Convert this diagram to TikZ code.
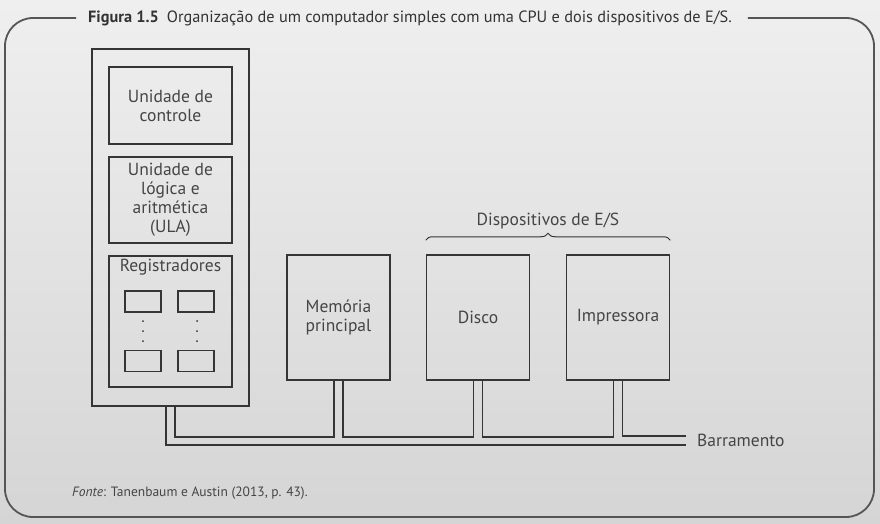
\documentclass[tikz,border=0pt]{standalone}
\usepackage{fontspec}
\setmainfont{PT Sans}
\usetikzlibrary{positioning,calc,decorations.pathreplacing}
\definecolor{ink}{HTML}{353535}
\definecolor{txt}{HTML}{454545}
\definecolor{rim}{HTML}{555555}
\definecolor{bgtop}{HTML}{EFEFEF}
\definecolor{bgbot}{HTML}{D5D5D5}
\tikzset{
  box/.style={draw=ink,line width=1.5pt,text=txt,align=center,font=\fontsize{17.5}{19}\selectfont,inner sep=2pt},
  reg/.style={draw=ink,line width=1.3pt,minimum width=36pt,minimum height=21pt,inner sep=0pt},
  bus/.style={draw=ink,line width=1.5pt},
  lbl/.style={text=txt,font=\fontsize{17.5}{19}\selectfont,inner sep=0pt},
  frame/.style={draw=rim,line width=1.8pt,rounded corners=28pt}
}

\begin{document}
\begin{tikzpicture}[x=1pt,y=-1pt]
  \shade[top color=bgtop,bottom color=bgbot] (0,0) rectangle (880,524);
  \useasboundingbox (0,0) rectangle (880,524);

  % titulo e moldura
  \node[lbl,anchor=west,font=\fontsize{16.3}{18}\selectfont,text=black!80] (titulo) at (88,18)
    {\textbf{Figura 1.5}\enspace Organização de um computador simples com uma CPU e dois dispositivos de E/S.};
  \draw[frame] ([xshift=-12pt]titulo.west) -- (5,18) -- (5,517) -- (874,517) -- (874,18) -- ([xshift=16pt]titulo.east);

  % CPU
  \node[box,minimum width=157pt,minimum height=357pt] (cpu) at (170.5,227.5) {};
  \node[box,minimum width=123pt,minimum height=77pt] (uc) at (170.5,105.5) {Unidade de\\controle};
  \node[box,minimum width=123pt,minimum height=86pt] (ula) at (170.5,200) {Unidade de\\lógica e\\aritmética\\(ULA)};
  \node[box,minimum width=123pt,minimum height=131pt] (regs) at (170.5,321.5) {};
  \node[lbl,below=4pt of regs.north] (regtit) {Registradores};
  \node[reg] (r1) at (143,301.5) {};
  \node[reg] (r2) at (196,301.5) {};
  \node[reg] (r3) at (143,361) {};
  \node[reg] (r4) at (196,361) {};
  \foreach \x in {143,197}
    \foreach \y in {321,331,341}
      \fill[ink] (\x,\y) circle (1pt);

  % memoria e E/S
  \node[box,minimum width=103pt,minimum height=125pt] (mem) at (338.5,317.5) {Memória\\principal};
  \node[box,minimum width=103pt,minimum height=125pt] (dsk) at (478,317.5) {Disco};
  \node[box,minimum width=103pt,minimum height=125pt] (prn) at (618,317.5) {Impressora};
  \draw[ink,line width=1pt,decorate,decoration={brace,amplitude=7pt}]
    ([yshift=14pt]dsk.north west) -- ([yshift=14pt]prn.north east)
    node[lbl,midway,above=11pt] (es) {Dispositivos de E/S};

  % barramento
  \coordinate (bi) at (686,436);
  \coordinate (bo) at (686,445);
  \draw[bus] ([xshift=-4.5pt]cpu.south) |- (bo);
  \draw[bus] ([xshift=4.5pt]cpu.south) |- ([xshift=-4.5pt,yshift=-56pt]mem.south) -- ([xshift=-4.5pt]mem.south);
  \draw[bus] ([xshift=4.5pt]mem.south) |- ([xshift=-4.5pt,yshift=-56pt]dsk.south) -- ([xshift=-4.5pt]dsk.south);
  \draw[bus] ([xshift=4.5pt]dsk.south) |- ([xshift=-4.5pt,yshift=-56pt]prn.south) -- ([xshift=-4.5pt]prn.south);
  \draw[bus] ([xshift=4.5pt]prn.south) |- (bi);
  \node[lbl,anchor=west] (barra) at (697,440) {Barramento};

  \node[lbl,anchor=west,font=\fontsize{13.5}{15}\selectfont] (fonte) at (72,493)
    {\textit{Fonte}: Tanenbaum e Austin (2013, p. 43).};
\end{tikzpicture}
\end{document}
